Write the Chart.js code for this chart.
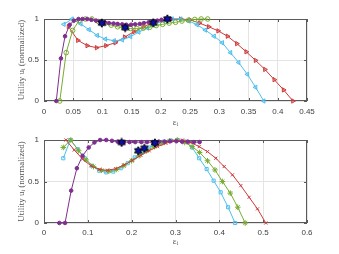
<!DOCTYPE html>
<html>
<head>
<meta charset="utf-8">
<script src="https://cdn.jsdelivr.net/npm/chart.js@4.4.0/dist/chart.umd.min.js"></script>
<style>
  body { margin: 0; background: #fff; }
  .panel { position: absolute; left: 0; width: 339px; height: 127px; }
</style>
</head>
<body>
<div class="panel" style="top:0"><canvas id="topChart" width="339" height="127"></canvas></div>
<div class="panel" style="top:127px"><canvas id="bottomChart" width="339" height="127"></canvas></div>
<script>
// tick labels
const topXTicks = [0, 0.05, 0.1, 0.15, 0.2, 0.25, 0.3, 0.35, 0.4, 0.45];
const bottomXTicks = [0, 0.1, 0.2, 0.3, 0.4, 0.5, 0.6];
const yTicks = [0, 0.5, 1];

// top panel
const topPurpleX = [0.021, 0.029, 0.036, 0.044, 0.051, 0.059, 0.066, 0.074, 0.081, 0.089, 0.096, 0.104, 0.111, 0.119, 0.126, 0.134, 0.141, 0.149, 0.156, 0.164, 0.171, 0.179, 0.186, 0.194, 0.201, 0.209, 0.216];
const topPurpleY = [0, 0.52, 0.79, 0.93, 0.98, 1.0, 1.0, 1.0, 0.99, 0.98, 0.97, 0.96, 0.95, 0.945, 0.94, 0.935, 0.93, 0.93, 0.935, 0.94, 0.95, 0.96, 0.97, 0.98, 0.99, 1.0, 1.0];
const topRedX = [0.042, 0.058, 0.074, 0.09, 0.106, 0.122, 0.138, 0.154, 0.17, 0.186, 0.202, 0.218, 0.234, 0.25, 0.266, 0.282, 0.298, 0.314, 0.33, 0.346, 0.362, 0.378, 0.394, 0.41, 0.426];
const topRedY = [0.906, 0.74, 0.675, 0.65, 0.675, 0.71, 0.78, 0.845, 0.905, 0.955, 0.985, 1.0, 1.0, 0.99, 0.95, 0.905, 0.855, 0.79, 0.70, 0.60, 0.495, 0.385, 0.26, 0.135, 0];
const topCyanX = [0.034, 0.048, 0.063, 0.077, 0.091, 0.105, 0.12, 0.134, 0.148, 0.162, 0.177, 0.191, 0.205, 0.219, 0.234, 0.248, 0.262, 0.276, 0.291, 0.305, 0.319, 0.333, 0.348, 0.362, 0.376];
const topCyanY = [0.935, 1.0, 0.94, 0.87, 0.8, 0.755, 0.735, 0.745, 0.785, 0.84, 0.89, 0.94, 0.98, 1.0, 1.0, 0.975, 0.93, 0.865, 0.79, 0.71, 0.59, 0.47, 0.325, 0.167, 0];
const topGreenX = [0.027, 0.038, 0.049, 0.06, 0.071, 0.082, 0.093, 0.104, 0.115, 0.126, 0.137, 0.148, 0.159, 0.17, 0.181, 0.192, 0.203, 0.214, 0.225, 0.236, 0.247, 0.258, 0.269, 0.28];
const topGreenY = [0, 0.59, 0.86, 0.98, 1.0, 1.0, 0.97, 0.945, 0.925, 0.905, 0.89, 0.885, 0.885, 0.89, 0.90, 0.92, 0.935, 0.95, 0.96, 0.975, 0.985, 0.995, 1.0, 1.0];
const topStarX = [0.099, 0.139, 0.187, 0.211];
const topStarY = [0.95, 0.895, 0.955, 1.0];

// bottom panel
const botPurpleX = [0.035, 0.048, 0.062, 0.075, 0.088, 0.102, 0.115, 0.128, 0.142, 0.155, 0.168, 0.182, 0.195, 0.208, 0.222, 0.235, 0.248, 0.262, 0.275, 0.288, 0.302, 0.315, 0.328, 0.342, 0.355];
const botPurpleY = [0, 0, 0.39, 0.66, 0.81, 0.91, 0.97, 1.0, 1.0, 0.99, 0.98, 0.975, 0.975, 0.975, 0.975, 0.975, 0.975, 0.98, 0.98, 0.985, 0.985, 0.98, 0.98, 0.975, 0.975];
const botRedX = [0.05, 0.069, 0.088, 0.107, 0.126, 0.145, 0.164, 0.183, 0.202, 0.221, 0.24, 0.259, 0.278, 0.297, 0.316, 0.335, 0.354, 0.373, 0.392, 0.411, 0.43, 0.449, 0.468, 0.487, 0.506];
const botRedY = [1.0, 0.88, 0.77, 0.69, 0.645, 0.635, 0.655, 0.70, 0.755, 0.815, 0.87, 0.92, 0.96, 0.99, 1.0, 0.97, 0.92, 0.86, 0.78, 0.68, 0.58, 0.45, 0.31, 0.17, 0];
const botGreenX = [0.044, 0.061, 0.079, 0.096, 0.113, 0.131, 0.148, 0.165, 0.182, 0.2, 0.217, 0.234, 0.252, 0.269, 0.286, 0.304, 0.321, 0.338, 0.355, 0.373, 0.39, 0.407, 0.425, 0.442, 0.459];
const botGreenY = [0.91, 1.0, 0.87, 0.76, 0.68, 0.635, 0.625, 0.645, 0.69, 0.75, 0.81, 0.87, 0.92, 0.96, 0.99, 1.0, 0.97, 0.92, 0.85, 0.75, 0.64, 0.50, 0.36, 0.19, 0];
const botCyanX = [0.044, 0.06, 0.077, 0.093, 0.109, 0.126, 0.142, 0.158, 0.175, 0.191, 0.207, 0.224, 0.24, 0.256, 0.273, 0.289, 0.305, 0.322, 0.338, 0.354, 0.371, 0.387, 0.403, 0.42, 0.436];
const botCyanY = [0.78, 1.0, 0.89, 0.78, 0.69, 0.63, 0.61, 0.62, 0.66, 0.72, 0.79, 0.85, 0.91, 0.95, 0.98, 0.995, 1.0, 0.98, 0.91, 0.78, 0.65, 0.51, 0.37, 0.19, 0];
const botStarX = [0.177, 0.215, 0.229, 0.253];
const botStarY = [0.97, 0.87, 0.90, 0.965];

const purple = '#7E2F8E', red = '#cd3a3a', cyan = '#4DBEEE', green = '#77AC30';

const pts = (xs, ys) => xs.map((x, i) => ({ x: x, y: ys[i] }));
const fmt = v => String(Number(v.toFixed(3)));

// six point star marker
function hexagram(size) {
    const c = document.createElement('canvas');
    c.width = c.height = size;
    const g = c.getContext('2d');
    const r = size / 2 - 0.8, cx = size / 2;
    g.beginPath();
    for (let k = 0; k < 12; k++) {
        const ang = -Math.PI / 2 + k * Math.PI / 6;
        const rr = k % 2 ? r * 0.58 : r;
        g.lineTo(cx + rr * Math.cos(ang), cx + rr * Math.sin(ang));
    }
    g.closePath();
    g.fillStyle = '#0a10a8';
    g.fill();
    g.strokeStyle = '#000';
    g.lineWidth = 1;
    g.stroke();
    return c;
}
const starImg = hexagram(10);

function series(xs, ys, color, style, extra) {
    return Object.assign({
        data: pts(xs, ys),
        borderColor: color,
        backgroundColor: color,
        borderWidth: 1,
        showLine: true,
        tension: 0,
        clip: false,
        pointStyle: style,
        pointRadius: 2.5,
        pointBorderWidth: 1,
        pointBorderColor: color,
        pointBackgroundColor: 'rgba(255,255,255,0)'
    }, extra || {});
}

function stars(xs, ys) {
    return { data: pts(xs, ys), showLine: false, clip: false, pointStyle: starImg, pointRadius: 5 };
}

// box around the axes with inward ticks, like the original
const boxPlugin = {
    id: 'box',
    beforeDatasetsDraw(chart) {
        const { ctx, chartArea: a, scales } = chart;
        ctx.save();
        ctx.strokeStyle = '#5a5a5a';
        ctx.lineWidth = 1;
        ctx.strokeRect(a.left + 0.5, a.top + 0.5, a.right - a.left - 1, a.bottom - a.top - 1);
        ctx.beginPath();
        scales.x.ticks.forEach(t => {
            const px = Math.round(scales.x.getPixelForValue(t.value)) + 0.5;
            ctx.moveTo(px, a.bottom); ctx.lineTo(px, a.bottom - 3);
            ctx.moveTo(px, a.top); ctx.lineTo(px, a.top + 3);
        });
        scales.y.ticks.forEach(t => {
            const py = Math.round(scales.y.getPixelForValue(t.value)) + 0.5;
            ctx.moveTo(a.left, py); ctx.lineTo(a.left + 3, py);
            ctx.moveTo(a.right, py); ctx.lineTo(a.right - 3, py);
        });
        ctx.stroke();
        ctx.restore();
    }
};

function makeChart(id, datasets, xTicks, xMax, padTop, xAxisHeight, tickPad, xTitlePad) {
    return new Chart(document.getElementById(id), {
        type: 'scatter',
        data: { datasets: datasets },
        plugins: [boxPlugin],
        options: {
            responsive: false,
            animation: false,
            layout: { padding: { left: 0, right: 32, top: padTop, bottom: 0 } },
            plugins: { legend: { display: false }, tooltip: { enabled: false } },
            scales: {
                x: {
                    type: 'linear', min: 0, max: xMax,
                    afterBuildTicks: s => { s.ticks = xTicks.map(v => ({ value: v })); },
                    afterFit: s => { s.height = xAxisHeight; },
                    grid: { color: '#e4e4e4', drawTicks: false },
                    border: { display: false },
                    ticks: { padding: tickPad, color: '#404040', maxRotation: 0, autoSkip: false,
                             font: { family: 'Liberation Sans', size: 8 }, callback: v => fmt(v) },
                    title: { display: true, text: 'εᵢ', color: '#555',
                             font: { family: 'Liberation Serif', size: 9, lineHeight: 1 },
                             padding: { top: 0, bottom: xTitlePad } }
                },
                y: {
                    min: 0, max: 1,
                    afterBuildTicks: s => { s.ticks = yTicks.map(v => ({ value: v })); },
                    afterFit: s => { s.width = 44; },
                    grid: { color: '#e4e4e4', drawTicks: false },
                    border: { display: false },
                    ticks: { padding: 5, color: '#404040',
                             font: { family: 'Liberation Sans', size: 8 }, callback: v => fmt(v) },
                    title: { display: true, text: 'Utility uᵢ (normalized)', color: '#555',
                             font: { family: 'Liberation Serif', size: 9, lineHeight: 1.2 },
                             padding: { top: 16, bottom: 0 } }
                }
            }
        }
    });
}

makeChart('topChart', [
    stars(topStarX, topStarY),
    series(topPurpleX, topPurpleY, purple, 'circle', { pointRadius: 1.8, pointBackgroundColor: purple }),
    series(topGreenX, topGreenY, green, 'circle', { pointRadius: 2.3 }),
    series(topCyanX, topCyanY, cyan, 'triangle', { pointRotation: -90, pointBackgroundColor: 'rgba(77,190,238,0.35)' }),
    series(topRedX, topRedY, red, 'triangle', { pointRotation: 90, pointBackgroundColor: 'rgba(205,58,58,0.35)' })
], topXTicks, 0.45, 19, 26, 6, 0);

makeChart('bottomChart', [
    stars(botStarX, botStarY),
    series(botPurpleX, botPurpleY, purple, 'circle', { pointRadius: 1.8, pointBackgroundColor: purple }),
    series(botRedX, botRedY, red, 'crossRot', { pointRadius: 2.2 }),
    series(botGreenX, botGreenY, green, 'star', { pointRadius: 2.8 }),
    series(botCyanX, botCyanY, cyan, 'rect', { pointRadius: 2.2 })
], bottomXTicks, 0.6, 13, 31, 5, 7.5);
</script>
</body>
</html>
